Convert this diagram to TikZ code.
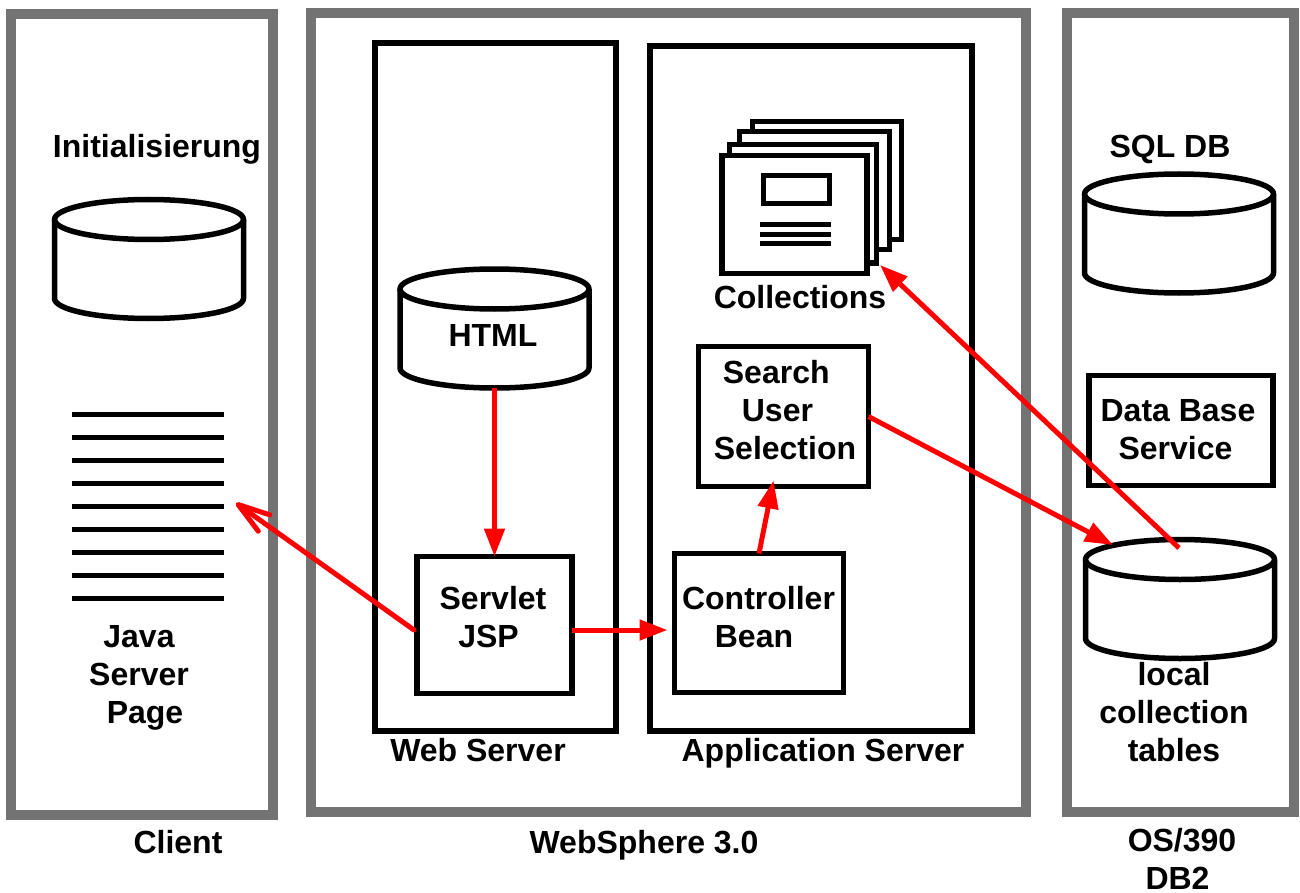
\documentclass[tikz,border=0pt]{standalone}
\usepackage{fontspec}
\setmainfont{Liberation Sans}
\usetikzlibrary{arrows.meta}
\definecolor{framegray}{HTML}{737373}
\tikzset{
	frame/.style={draw=framegray, line width=10pt, inner sep=0pt, outer sep=0pt},
	box/.style={draw=black, line width=5.5pt, inner sep=0pt, outer sep=0pt, align=center},
	dbspot/.style={inner sep=0pt, outer sep=0pt, minimum width=189pt, minimum height=119pt},
	dbline/.style={draw=black, line width=5.5pt, line join=round},
	textlabel/.style={inner sep=0pt, outer sep=0pt, align=center},
	flow/.style={draw=red, line width=5pt, -{Stealth[length=28pt,width=20pt,inset=0pt]}},
	openflow/.style={draw=red, line width=5pt, line cap=round, -{Straight Barb[length=32pt,width=20pt,round]}},
	sheet/.style={draw=black, line width=5pt, fill=white}
}
% drum with a flat lid: name, x, y
\newcommand{\dbdrum}[3]{
	\node (#1) [dbspot] at (#2,#3) {};
	\draw [dbline] ([yshift=-20pt]#1.north) ellipse [x radius=94.5pt, y radius=20pt];
	\draw [dbline] ([yshift=-20pt]#1.north west) -- ([yshift=20pt]#1.south west)
		arc [start angle=180, end angle=360, x radius=94.5pt, y radius=20pt]
		-- ([yshift=-20pt]#1.north east);
}
\begin{document}
\begin{tikzpicture}[x=1pt, y=-1pt, font=\fontsize{32}{38}\selectfont\bfseries]
	\useasboundingbox (0,0) rectangle (1300,893);
	% outer frames
	\node (client) [frame, minimum width=262pt, minimum height=801pt] at (142,414.5) {};
	\node (websphere) [frame, minimum width=715pt, minimum height=799pt] at (668.5,412.5) {};
	\node (os) [frame, minimum width=227pt, minimum height=799pt] at (1180.5,412.5) {};
	\node (webserver) [box, minimum width=241pt, minimum height=688pt] at (495.5,387) {};
	\node (appserver) [box, minimum width=322pt, minimum height=685pt] at (811,388.5) {};
	% client
	\dbdrum{initdb}{149}{259}
	\foreach \y in {414,437,...,598} {
		\draw [black, line width=5pt] (72,\y) -- (224,\y);
	}
	\coordinate (listtip) at (236,503);
	% stack
	\draw [sheet] (752,240) -- (752,121.5) -- (901,121.5) -- (901,240) -- cycle;
	\draw [sheet] (739,250) -- (739,131.5) -- (889.5,131.5) -- (889.5,250) -- cycle;
	\draw [sheet] (729,263) -- (729,144.5) -- (876.5,144.5) -- (876.5,263) -- cycle;
	\node (collect) [box, fill=white, minimum width=145pt, minimum height=118pt] at (794.5,214.5) {};
	\node (collecticon) [draw=black, line width=5pt, minimum width=66pt, minimum height=28pt, inner sep=0pt] at (796.5,190) {};
	\foreach \y in {225,235,244} {
		\draw [black, line width=5pt] (760,\y) -- (831,\y);
	}
	\coordinate (collecttip) at (880,265);
	% web and application server
	\dbdrum{html}{494.5}{328.5}
	\node (servlet) [box, minimum width=155pt, minimum height=137pt] at (494.5,625) {};
	\node (controller) [box, minimum width=169pt, minimum height=139pt] at (759,623) {};
	\node (search) [box, minimum width=170pt, minimum height=140pt] at (783.5,416.5) {};
	% os/390
	\dbdrum{sqldb}{1179}{233.5}
	\node (dbservice) [box, minimum width=184pt, minimum height=110pt] at (1181,430.5) {};
	\dbdrum{tables}{1180}{599}
	\coordinate (tablein) at (1113,545);
	\coordinate (tableout) at (1179,548);
	% texts
	\node (inittext) [textlabel] at (157,149) {Initialisierung};
	\node (sqltext) [textlabel] at (1170,149) {SQL DB};
	\node (htmltext) [textlabel] at (493,335) {HTML};
	\node (collecttext) [textlabel] at (800,297) {Collections};
	\node (searchtext) [textlabel, align=left] at (785,410) {\hspace*{9pt}Search\\\hspace*{28pt}User\\Selection};
	\node (servlettext) [textlabel] at (493,617) {Servlet\\JSP\hspace*{9pt}};
	\node (controllertext) [textlabel] at (758.5,617) {Controller\\Bean\hspace*{9pt}};
	\node (dbtext) [textlabel] at (1178,430) {Data Base\\Service\hspace*{5pt}};
	\node (jsptext) [textlabel] at (139,678) {Java\\Server\hspace*{12pt}\\\hspace*{12pt}Page};
	\node (tabletext) [textlabel] at (1174,712) {local\\collection\\tables};
	\node (webtext) [textlabel] at (478,750) {Web Server};
	\node (apptext) [textlabel] at (823,753) {Application Server};
	\node (clienttext) [textlabel] at (178,842) {Client};
	\node (wstext) [textlabel] at (644,845) {WebSphere 3.0};
	\node (ostext) [textlabel] at (1182,859) {OS/390\\DB2\hspace*{9pt}};
	% connectors
	\draw [flow] (html.south) -- (servlet.north);
	\draw [flow] ([yshift=-5pt]servlet.east) -- ([yshift=-7pt,xshift=-7pt]controller.west);
	\draw [flow] (controller.north) -- ([xshift=-10pt,yshift=6pt]search.south);
	\draw [flow] (search.east) -- (tablein);
	\draw [flow] (tableout) -- (collecttip);
	\draw [openflow] ([yshift=-5pt,xshift=-3pt]servlet.west) -- (listtip);
\end{tikzpicture}
\end{document}
